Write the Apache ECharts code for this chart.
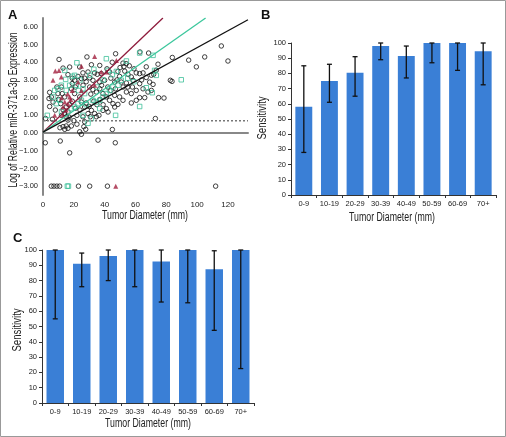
<!DOCTYPE html>
<html><head><meta charset="utf-8">
<script src="https://cdn.jsdelivr.net/npm/echarts@6/dist/echarts.min.js"></script>
<style>html,body{margin:0;padding:0;background:#fff}#c{width:506px;height:437px}</style>
</head><body><div id="c"></div>
<script>
// ---------- Panel A data ----------
const blackPts = [
[1.5,-0.55],[11.2,-0.45],[17.3,-1.12],[35.7,-0.4],[46.9,-0.55],[45,0.2],
[5.4,-3],[7.1,-3],[9,-3],[10.8,-3],[23,-3],[30.3,-3],[41.8,-3],[112,-3],
[115.7,4.92],[120,4.07],[104.9,4.3],[99.5,3.74],[94.5,4.12],[83.9,4.27],[82.6,2.98],[83.7,2.92],[78.5,1.98],[72.9,0.82],
[10.4,4.16],[28.5,4.3],[47.1,4.48],[62.9,4.58],[68.5,4.52],
[13,3.67],[17.3,3.73],[23.8,3.73],[31.4,3.86],[36.8,3.82],[41.5,3.63],[51.9,3.95],[54,3.92],[59,3.63],[67,3.74],[74.6,3.89],[48.6,3.48],
[25.9,3.4],[29.2,3.45],[33.5,3.4],[35.2,3.32],[37.8,3.36],[43.2,3.45],[49.7,3.2],[55.1,3.32],[57.3,3.17],[60.5,3.4],[62.7,3.36],[64.9,3.4],[70.3,3.27],[71.8,3.32],[73.5,3.55],[67,3.14],
[16.2,3.3],[20.5,2.98],[22.7,3.2],[24.9,3.08],[30.3,3.12],[32.4,2.98],[36.8,2.88],[40,2.98],[46.5,2.88],[50.8,2.88],[54.1,2.83],[58.4,2.98],[62.7,2.79],[69.2,2.88],[71.4,2.75],
[4.3,2.3],[3.9,1.95],[4.3,1.5],[5.4,2.04],[6.5,1.75],[1.7,0.82],[6.1,0.78],
[9.7,2.23],[12.5,2.23],[14.1,2.04],[11.5,1.66],[13,1.32],[15.1,1.47],[16.2,1.19],[15.1,0.92],[16.2,0.73],[15.1,0.4],[16.2,0.27],[13,0.36],[14.1,0.21],[18.4,0.4],
[18.4,2.5],[20.5,2.23],[23.8,2.04],[24.9,1.75],[27,1.47],[25.9,0.92],[27,0.64],[26.5,0.36],[27.7,0.21],[23.8,0.07],[24.9,-0.07],
[30.3,2.6],[32.4,2.45],[34.6,2.32],[36.8,2.5],[38.9,2.23],[41.1,2.04],[43.2,1.85],[45.4,1.66],[48.6,1.62],[46.5,2.13],[49.7,2.04],[51.9,1.85],[54.1,2.32],[57.3,2.23],[60.5,2.41],[64.9,2.5],[68.1,2.32],[70.3,2.41],[62.7,2.0],[60.5,1.85],[57.3,1.7],
[31.4,1.28],[33.5,1.1],[34.6,0.92],[36.3,1.0],[38.9,1.28],[41.1,1.38],[42.2,1.19],[46.5,1.47],[29.2,1.1],[30.7,0.92],
[19,2.8],[21,2.6],[26,2.7],[28,2.9],[31,2.2],[33,1.8],[35,1.6],[37,1.9],[39,1.6],[42,2.6],[44,2.4],[47,2.5],[52,2.6],[55,2.6],[58,2.6],
[12,1.0],[14,1.1],[17,1.6],[19,1.8],[21,1.4],[22,1.0],[24,1.3],[28,1.7],[30,1.5],[10,1.9],[8,1.3],[20,0.7],[22,0.5],[11,0.3],[17,0.9],
[38,2.7],[44,3.1],[48,3.0],[53,3.5],[27,3.1],[19,3.1],[56,3.8],[64,3.0],[66,2.0],[75,2.0],[12,2.6],[9,2.6],[44.9,4.0],[50,3.7],[52.5,3.75]
];
const greenPts = [
[15.8,-3],[16.5,-3],[22,3.97],[14.7,3.03],[14.1,3.54],[20.5,3.26],[30.3,3.26],[41.1,4.2],[42.2,3.54],[47.6,3.48],[54.1,4.07],[62.7,4.52],[71.4,4.39],[72.4,3.54],[73.5,3.26],[89.7,3.01],
[62.7,1.5],[70.9,2.28],[67,2.56],[47.1,1.0],[36.8,1.38],[29.2,0.55],[31.4,0.82],[10.8,1.85],[9.7,2.5],[11.9,2.7],[15.1,2.41],[17.3,2.7],[21.6,2.7],[25.9,2.5],[27,2.23],
[32.4,1.85],[34.6,1.75],[36.8,1.85],[38.9,2.04],[41.1,2.23],[43.2,2.41],[45.4,2.6],[48.6,2.7],[50.8,2.98],[18.4,1.38],[20.5,1.47],[22.7,1.66],[24.9,1.85],[8.6,1.66],[6.5,2.04],[7.6,2.41],[2.8,1.0],
[26,1.0],[28,1.6],[19,3.2],[24,3.0],[33,3.6],[39,3.0],[45,3.3],[55,3.1],[59,2.9],[35,2.6],[12,1.2],[23,2.4]
];
const redPts = [
[47.2,-3],[33.5,4.33],[24.9,3.77],[11.9,3.16],[10.4,3.54],[6.5,2.98],[22.7,2.88],[24.9,2.41],[33.5,2.7],[37.8,3.45],[41.1,3.45],[47.6,4.1],
[13,1.47],[14.1,1.75],[16.2,1.66],[17.3,2.04],[7.6,1.0],[13,1.0],[15,1.3],[16,2.2],[19,2.4],[12,2.0],[18,1.9],[8,3.5]
];
const redLine = [[0,0.05],[77.8,6.5]];
const greenLine = [[0,0.05],[105.5,6.5]];
const blackLine = [[0,0.05],[133,6.4]];
const cutoffLine = [[0,0.7],[133,0.7]];

// ---------- Panels B & C data ----------
const categories = ['0-9','10-19','20-29','30-39','40-49','50-59','60-69','70+'];
const bSens = [58,75,80.5,98,91.5,100,100,94.5];
const bLow  = [28,61,65,89,77,87,82,72.5];
const bHigh = [85,86,91,100,98,100,100,100];
const cSens = [100,91,96,100,92.5,100,87.5,100];
const cLow  = [55,76,80,76,66,65.5,47.5,22.5];
const cHigh = [100,98,100,100,100,100,99.5,100];

const xName = 'Tumor Diameter (mm)';
const yNameA = 'Log of Relative miR-371a-3p Expression';
const yNameBC = 'Sensitivity';

const FONT = 'Liberation Sans, Arial, sans-serif';
const BLUE = '#3a7fd6';

function errSeries(xi, low, high){
  return {
    type:'custom', xAxisIndex:xi, yAxisIndex:xi, z:10,
    data: categories.map((c,i)=>[i, low[i], high[i]]),
    encode:{x:0, y:[1,2]},
    renderItem:(params, api)=>{
      const lo = api.coord([api.value(0), api.value(1)]);
      const hi = api.coord([api.value(0), api.value(2)]);
      const w = 2.5;
      const st = {stroke:'#111', lineWidth:1.3};
      return {type:'group', children:[
        {type:'line', shape:{x1:lo[0],y1:lo[1],x2:hi[0],y2:hi[1]}, style:st},
        {type:'line', shape:{x1:lo[0]-w,y1:lo[1],x2:lo[0]+w,y2:lo[1]}, style:st},
        {type:'line', shape:{x1:hi[0]-w,y1:hi[1],x2:hi[0]+w,y2:hi[1]}, style:st}
      ]};
    }
  };
}

function barXAxis(gi){
  return {type:'category', gridIndex:gi, data:categories,
    axisLine:{lineStyle:{color:'#333', width:1}},
    axisTick:{show:true, length:3, lineStyle:{color:'#333'}},
    axisLabel:{fontFamily:FONT, fontSize:7.5, color:'#222', margin:5, interval:0}};
}
function barYAxis(gi){
  return {type:'value', gridIndex:gi, min:0, max:100, interval:10,
    splitLine:{show:false},
    axisLine:{show:true, lineStyle:{color:'#333', width:1}},
    axisTick:{show:true, length:3, lineStyle:{color:'#333'}},
    axisLabel:{fontFamily:FONT, fontSize:7.5, color:'#222', margin:5}};
}
function label(text, x, y, sx, rot){
  return {type:'text', x:x, y:y, rotation:rot||0, scaleX:sx, silent:true,
    style:{text:text, font:'12px Liberation Sans, Arial, sans-serif', fill:'#222', textAlign:'center', textVerticalAlign:'middle'}};
}

const chart = echarts.init(document.getElementById('c'), null, {renderer:'canvas', width:506, height:437});
chart.setOption({
  animation:false,
  grid:[
    {left:43, right:258, top:18, bottom:242},
    {left:291, right:10, top:43, bottom:242},
    {left:42, right:252, top:250, bottom:34}
  ],
  xAxis:[
    {type:'value', gridIndex:0, min:0, max:133, interval:20,
      splitLine:{show:false},
      axisLine:{lineStyle:{color:'#888', width:2}},
      axisTick:{show:false},
      axisLabel:{fontFamily:FONT, fontSize:8, color:'#222', margin:6,
        formatter:v=> (v%20===0 && v<=120) ? String(v) : ''}},
    barXAxis(1), barXAxis(2)
  ],
  yAxis:[
    {type:'value', gridIndex:0, min:-3.5, max:6.5, interval:0.5,
      splitLine:{show:false},
      axisLine:{show:true, lineStyle:{color:'#888', width:2}},
      axisTick:{show:false},
      axisLabel:{fontFamily:FONT, fontSize:7.5, color:'#222', margin:5,
        formatter:v=> Number.isInteger(v) ? (v<0 ? '\u2212'+Math.abs(v).toFixed(2) : v.toFixed(2)) : ''}},
    barYAxis(1), barYAxis(2)
  ],
  series:[
    {type:'line', xAxisIndex:0, yAxisIndex:0, data:cutoffLine, symbol:'none', silent:true,
      lineStyle:{color:'#777', width:1.5, type:[2,2]}},
    {type:'scatter', xAxisIndex:0, yAxisIndex:0, data:blackPts, symbol:'circle', symbolSize:4.5,
      itemStyle:{color:'rgba(255,255,255,0)', borderColor:'#111', borderWidth:1}},
    {type:'scatter', xAxisIndex:0, yAxisIndex:0, data:greenPts, symbol:'rect', symbolSize:4.5,
      itemStyle:{color:'rgba(255,255,255,0)', borderColor:'#3dbf98', borderWidth:1}},
    {type:'scatter', xAxisIndex:0, yAxisIndex:0, data:redPts, symbol:'triangle', symbolSize:5,
      itemStyle:{color:'#a3203f'}},
    {type:'line', xAxisIndex:0, yAxisIndex:0, data:redLine, symbol:'none', lineStyle:{color:'#8e1b3c', width:1.3}},
    {type:'line', xAxisIndex:0, yAxisIndex:0, data:greenLine, symbol:'none', lineStyle:{color:'#3cc79c', width:1.3}},
    {type:'line', xAxisIndex:0, yAxisIndex:0, data:blackLine, symbol:'none', lineStyle:{color:'#111', width:1.3}},
    {type:'bar', xAxisIndex:1, yAxisIndex:1, data:bSens, barCategoryGap:'34%', itemStyle:{color:BLUE}},
    errSeries(1, bLow, bHigh),
    {type:'bar', xAxisIndex:2, yAxisIndex:2, data:cSens, barCategoryGap:'34%', itemStyle:{color:BLUE}},
    errSeries(2, cLow, cHigh)
  ],
  graphic:[
    {type:'rect', shape:{x:0.5,y:0.5,width:505,height:436}, style:{fill:'none', stroke:'#999', lineWidth:1}, silent:true},
    {type:'text', left:8, top:9, style:{text:'A', font:'bold 13px Liberation Sans, Arial, sans-serif', fill:'#111'}},
    {type:'text', left:261, top:9, style:{text:'B', font:'bold 13px Liberation Sans, Arial, sans-serif', fill:'#111'}},
    {type:'text', left:13, top:232, style:{text:'C', font:'bold 13px Liberation Sans, Arial, sans-serif', fill:'#111'}},
    label(xName, 145, 216, 0.73),
    label(xName, 392, 218, 0.73),
    label(xName, 148, 424, 0.73),
    label(yNameA, 13.5, 110, 0.72, Math.PI/2),
    label(yNameBC, 263, 118, 0.8, Math.PI/2),
    label(yNameBC, 17.5, 330, 0.8, Math.PI/2)
  ]
});
</script></body></html>
